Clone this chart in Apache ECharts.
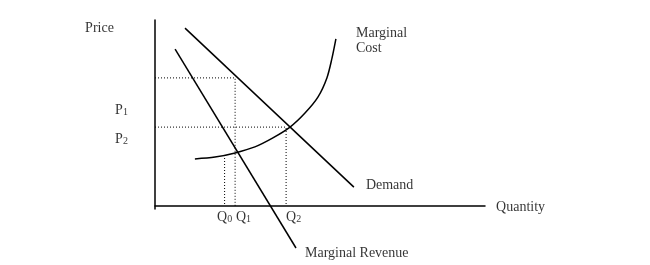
<!DOCTYPE html>
<html>
<head>
<meta charset="utf-8">
<script src="https://cdn.jsdelivr.net/npm/echarts@6/dist/echarts.min.js"></script>
<style>html,body{margin:0;padding:0;background:#fff}#c{width:650px;height:265px}</style>
</head>
<body>
<div id="c"></div>
<script>
// Data (arbitrary quantity / price units)
const demandQ = [10, 66.3];
const demandP = [59.3, 6.3];
const mrQ = [6.7, 47];
const mrP = [52.3, -14];
const mcQ = [13.3, 20, 26.7, 33.3, 39.3, 45, 50, 54.3, 57.3, 59, 60.3];
const mcP = [15.7, 16.3, 17.7, 19.7, 22.7, 26.3, 31, 36.3, 42.7, 49.3, 55.7];
const priceLevels = [42.7, 26.3];      // dotted price guides
const quantityLevels = [26.7, 43.7];   // dotted quantity guides
const q0Q = 23.2;
const q0Top = 17;
const labelTexts = ['Price', '{b|P}{s|1}', '{b|P}{s|2}', '{b|Q}{s|0}', '{b|Q}{s|1}', '{b|Q}{s|2}', 'Marginal', 'Cost', 'Demand', 'Quantity', 'Marginal Revenue'];
const labelQ = [-23.3, -13.3, -13.3, 20.7, 27, 43.7, 67, 67, 70.3, 113.7, 50];
const labelP = [59.3, 32, 22.3, -3.7, -3.7, -3.7, 57.7, 52.7, 7, -0.3, -15.7];

const zip = (a, b) => a.map((v, i) => [v, b[i]]);
const font = '"Liberation Serif", "Times New Roman", serif';
const solid = {color: '#000', width: 1.5};
const dotted = {color: '#000', width: 1, type: [1, 2]};

const chart = echarts.init(document.getElementById('c'));
chart.setOption({
  backgroundColor: '#fff',
  animation: false,
  grid: {left: 155, right: 165, top: 20, bottom: 56},
  xAxis: {
    type: 'value', min: 0, max: 110,
    axisLine: {show: true, onZero: true, lineStyle: {color: '#000', width: 1.5}},
    axisTick: {show: false}, axisLabel: {show: false}, splitLine: {show: false}
  },
  yAxis: {
    type: 'value', min: -1, max: 62,
    axisLine: {show: true, onZero: true, lineStyle: {color: '#000', width: 1.5}},
    axisTick: {show: false}, axisLabel: {show: false}, splitLine: {show: false}
  },
  series: [
    {type: 'line', data: zip(demandQ, demandP), symbol: 'none', lineStyle: solid, clip: false},
    {type: 'line', data: zip(mrQ, mrP), symbol: 'none', lineStyle: solid, clip: false},
    {type: 'line', data: zip(mcQ, mcP), symbol: 'none', smooth: 0.3, lineStyle: solid, clip: false},
    {type: 'line', data: [[0, priceLevels[0]], [quantityLevels[0], priceLevels[0]], [quantityLevels[0], 0]], symbol: 'none', lineStyle: dotted},
    {type: 'line', data: [[0, priceLevels[1]], [quantityLevels[1], priceLevels[1]], [quantityLevels[1], 0]], symbol: 'none', lineStyle: dotted},
    {type: 'line', data: [[q0Q, q0Top], [q0Q, 0]], symbol: 'none', lineStyle: dotted},
    {
      type: 'scatter', symbolSize: 0, clip: false, silent: true,
      data: labelTexts.map((t, i) => ({value: [labelQ[i], labelP[i]], name: t})),
      label: {
        show: true, position: 'right', distance: 0,
        formatter: p => p.name,
        color: '#000', fontFamily: font, fontSize: 14,
        rich: {
          b: {fontFamily: font, fontSize: 14, color: '#000'},
          s: {fontFamily: font, fontSize: 10, color: '#000', padding: [5, 0, 0, 0]}
        }
      }
    }
  ]
});
</script>
</body>
</html>
